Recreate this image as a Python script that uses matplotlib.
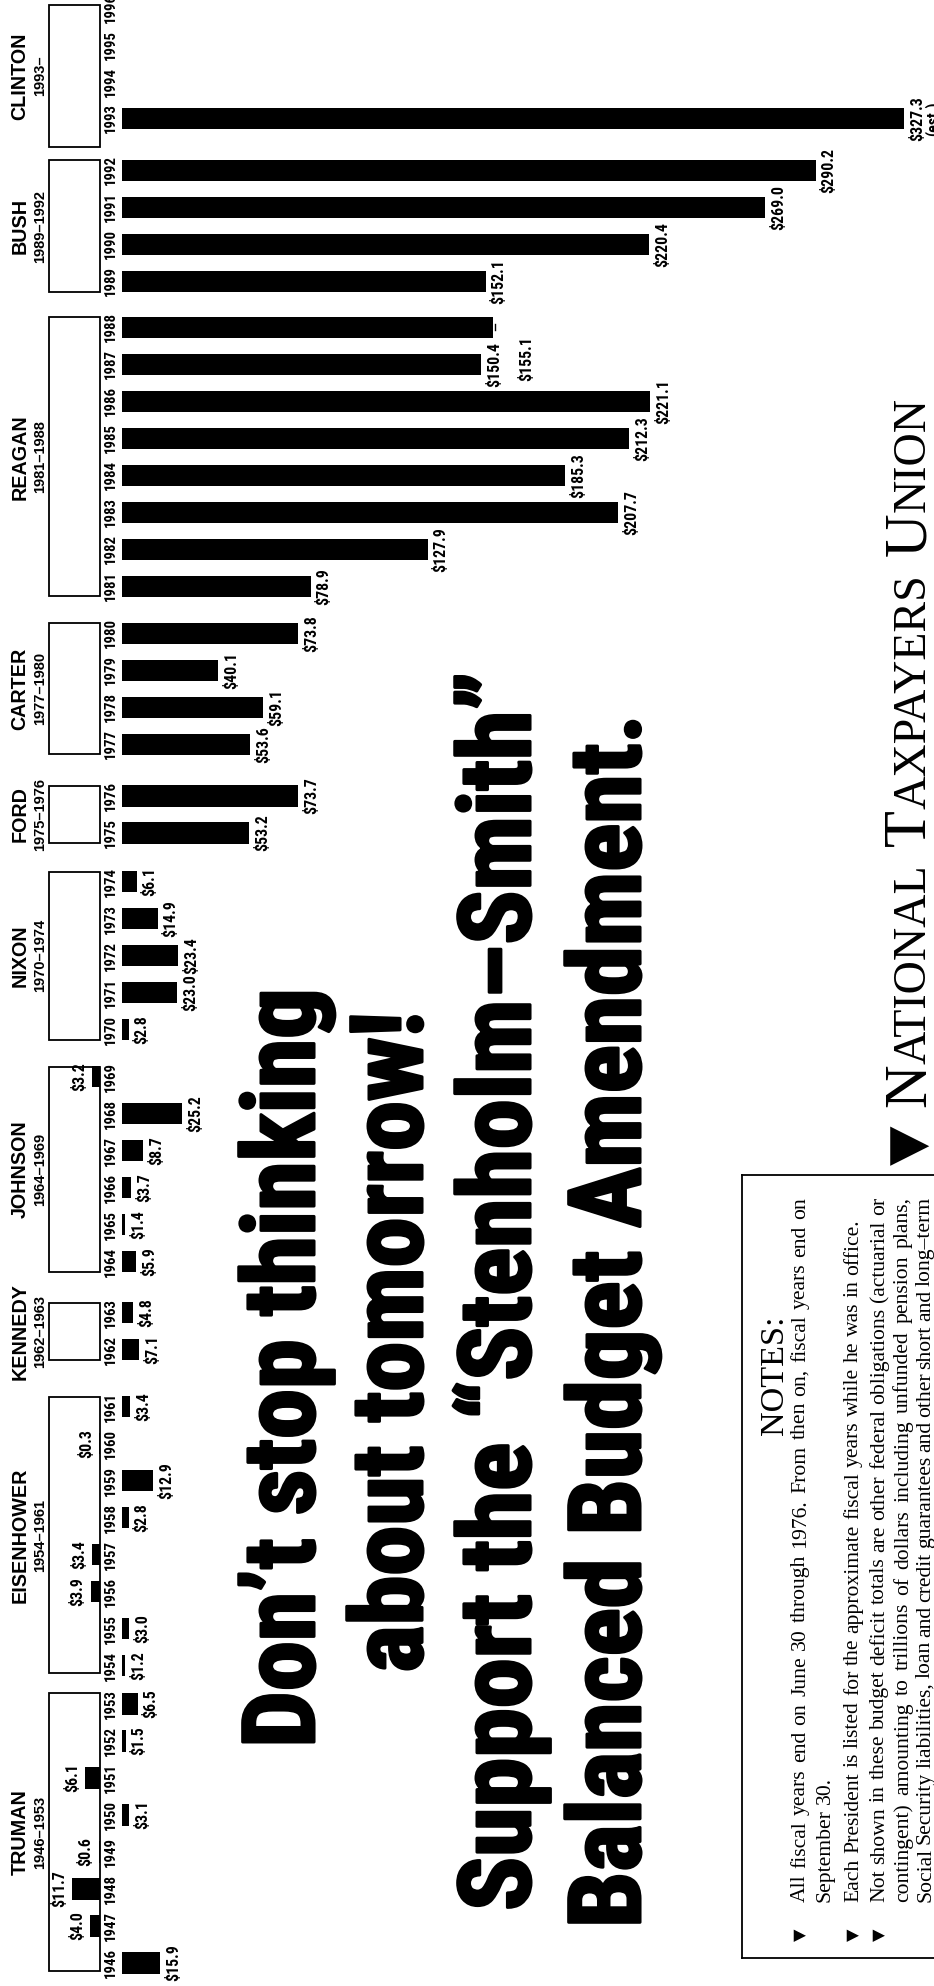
import numpy as np
import matplotlib
matplotlib.use("Agg")
import matplotlib.pyplot as plt
import matplotlib.patheffects as pe
from matplotlib.font_manager import FontProperties, fontManager
from matplotlib.patches import Rectangle

# ---------------- data ----------------
years = [1946, 1947, 1948, 1949, 1950, 1951, 1952, 1953,
         1954, 1955, 1956, 1957, 1958, 1959, 1960, 1961,
         1962, 1963, 1964, 1965, 1966, 1967, 1968, 1969,
         1970, 1971, 1972, 1973, 1974, 1975, 1976,
         1977, 1978, 1979, 1980, 1981, 1982, 1983, 1984,
         1985, 1986, 1987, 1988, 1989, 1990, 1991, 1992, 1993]
# deficit in $ billions (negative = surplus)
deficit = [15.9, -4.0, -11.7, -0.6, 3.1, -6.1, 1.5, 6.5,
           1.2, 3.0, -3.9, -3.4, 2.8, 12.9, -0.3, 3.4,
           7.1, 4.8, 5.9, 1.4, 3.7, 8.7, 25.2, -3.2,
           2.8, 23.0, 23.4, 14.9, 6.1, 53.2, 73.7,
           53.6, 59.1, 40.1, 73.8, 78.9, 127.9, 207.7, 185.3,
           212.3, 221.1, 150.4, 155.1, 152.1, 220.4, 269.0, 290.2, 327.3]
est_years = [1993]

presidents = ["TRUMAN", "EISENHOWER", "KENNEDY", "JOHNSON", "NIXON",
              "FORD", "CARTER", "REAGAN", "BUSH", "CLINTON"]
terms = ["1946–1953", "1954–1961", "1962–1963", "1964–1969", "1970–1974",
         "1975–1976", "1977–1980", "1981–1988", "1989–1992", "1993–"]
term_first = [1946, 1954, 1962, 1964, 1970, 1975, 1977, 1981, 1989, 1993]
term_last = [1953, 1961, 1963, 1969, 1974, 1976, 1980, 1988, 1992, 1996]

slogan = ["Don’t stop thinking", "about tomorrow!",
          "Support the “Stenholm–Smith”", "Balanced Budget Amendment."]
notes_title = "NOTES:"
notes_lines = [
    "All fiscal years end on June 30 through 1976. From then on, fiscal years end on",
    "September 30.",
    "Each President is listed for the approximate fiscal years while he was in office.",
    "Not shown in these budget deficit totals are other federal obligations (actuarial or",
    "contingent) amounting to trillions of dollars including unfunded pension plans,",
    "Social Security liabilities, loan and credit guarantees and other short and long–term",
]
notes_bullet = [True, False, True, True, False, False]
notes_justify = [True, False, False, True, True, True]
org_name = "NATIONAL TAXPAYERS UNION"

# ---------------- layout ----------------
W, H, DPI = 934, 1986, 100
X0 = 122.0        # px where deficit bars start
PX = 2.39         # px per $B
SB_PX = 100.0     # px where surplus bars start (extend left)
Y0 = 23.0         # px from bottom of first year
YS = 37.0         # px per year step
BAR_H = 0.57
GROUP_GAP = [0.03, 0.54, 0.38, 0.27, 0.32, 0.40, 0.27, 0.24, 0.40]
BOX_PAD_LO = [0.22, 0.2, 0.27, 0.27, 0.27, 0.27, 0.27, 0.27, 0.29, 0.77]
BOX_PAD_HI = [0.29, 0.27, 0.27, 0.27, 0.27, 0.27, 0.27, 0.27, 0.28, 0.07]
LABEL_SHIFT = {1988: (21, 31)}

avail = {f.name for f in fontManager.ttflist}


def pick(*names):
    for n in names:
        if n in avail:
            return n
    return "DejaVu Sans"


COND = pick("Liberation Sans Narrow", "Roboto Condensed", "DejaVu Sans")
SANS = pick("Liberation Sans", "Arimo", "DejaVu Sans")
SERIF = pick("Liberation Serif", "Tinos", "DejaVu Serif")

fig = plt.figure(figsize=(W / DPI, H / DPI), dpi=DPI, facecolor="white")
ax = fig.add_axes([0, 0, 1, 1])
ax.set_xlim(-X0 / PX, (W - X0) / PX)
ax.set_ylim(-Y0 / YS, (H - Y0) / YS)
ax.axis("off")
ov = fig.add_axes([0, 0, 1, 1], zorder=3)
ov.set_xlim(0, W)
ov.set_ylim(H, 0)
ov.axis("off")
ov.patch.set_alpha(0)
renderer = fig.canvas.get_renderer()


def dx(px):
    return (px - X0) / PX


def tlen(s, fp):
    w, h, d = renderer.get_text_width_height_descent(s, fp, ismath=False)
    return w


def fp_fit(s, target, family, weight="normal", stretch="normal"):
    fp = FontProperties(family=family, weight=weight, stretch=stretch, size=10)
    size = 10.0 * target / tlen(s, fp)
    return FontProperties(family=family, weight=weight, stretch=stretch, size=size)


def year_pos(y):
    g = next(i for i in range(len(term_first)) if term_first[i] <= y <= term_last[i])
    return (y - term_first[0]) + sum(GROUP_GAP[:g])


cond_fam = [COND, "DejaVu Sans"]
fp_year = fp_fit("1946", 30, cond_fam, "bold", "condensed")
fp_val = fp_fit("$15.9", 37, cond_fam, "bold", "condensed")
fp_name = fp_fit("TRUMAN", 85, [SANS, "DejaVu Sans"], "bold")
fp_term = fp_fit("1946–1953", 73, [SANS, "DejaVu Sans"], "bold")

# ---------------- bars ----------------
d = np.array(deficit)
pos = np.array([year_pos(y) for y in years])
SB = dx(SB_PX)
left = np.where(d >= 0, 0.0, SB)
ax.barh(pos, d, left=left, height=BAR_H, color="black", zorder=2)

LPAD = 5.0 / PX
for y, p, v in zip(years, pos, d):
    lab = f"${abs(v):.1f}"
    if y in est_years:
        lab += "\n(est.)"
    if v >= 0:
        x, ha = v + LPAD, "left"
    else:
        x, ha = SB + v - LPAD, "right"
    sx, sy = LABEL_SHIFT.get(y, (0, 0))
    ax.text(x + sx / PX, p - sy / YS, lab, rotation=90, ha=ha, va="center",
            fontproperties=fp_val, linespacing=0.9, multialignment="center")
    if y in LABEL_SHIFT:
        ax.plot([v + 2.0 / PX, v + 2.0 / PX], [p - 3 / YS, p + 3 / YS],
                color="black", lw=1.0)

# year labels
for y in range(term_first[0], term_last[-1] + 1):
    ax.text(dx(111), year_pos(y), str(y), rotation=90, ha="center", va="center",
            fontproperties=fp_year)

# president boxes and headers
for i, (name, term) in enumerate(zip(presidents, terms)):
    lo = year_pos(term_first[i]) - BOX_PAD_LO[i]
    hi = year_pos(term_last[i]) + BOX_PAD_HI[i]
    ax.add_patch(Rectangle((dx(49), lo), dx(100) - dx(49), hi - lo, fill=False,
                           lw=1.3, ec="black", zorder=1))
    c = (lo + hi) / 2
    ax.text(dx(20), c, name, rotation=90, ha="center", va="center", fontproperties=fp_name)
    ax.text(dx(40), c, term, rotation=90, ha="center", va="center", fontproperties=fp_term)

# ---------------- slogan ----------------
s3 = fp_fit(slogan[2], 1221, cond_fam, "bold", "condensed").get_size()
s4 = fp_fit(slogan[3], 1225, cond_fam, "bold", "condensed").get_size()
fp_slo = FontProperties(family=cond_fam, weight="bold", stretch="condensed", size=(s3 + s4) / 2)
heavy = [pe.withStroke(linewidth=2.2, foreground="black")]
ov.text(314, 1368, slogan[0], rotation=90, rotation_mode="anchor", ha="center",
        va="baseline", fontproperties=fp_slo, path_effects=heavy)
ov.text(422, 1342, slogan[1], rotation=90, rotation_mode="anchor", ha="center",
        va="baseline", fontproperties=fp_slo, path_effects=heavy)
ov.text(530, 1911, slogan[2], rotation=90, rotation_mode="anchor", ha="left",
        va="baseline", fontproperties=fp_slo, path_effects=heavy)
ov.text(640, 1928, slogan[3], rotation=90, rotation_mode="anchor", ha="left",
        va="baseline", fontproperties=fp_slo, path_effects=heavy)

# ---------------- notes box ----------------
serif_fam = [SERIF, "DejaVu Serif", "DejaVu Sans"]
box_l, box_top, box_bot = 742, 1175, 1958
ov.plot([box_l, box_l], [box_top, box_bot], color="black", lw=1.3)
ov.plot([box_l, W + 10], [box_top, box_top], color="black", lw=1.3)
ov.plot([box_l, W + 10], [box_bot, box_bot], color="black", lw=1.3)

fp_title = fp_fit(notes_title, 120, serif_fam)
ov.text(783, 1375, notes_title, rotation=90, rotation_mode="anchor", ha="center",
        va="baseline", fontproperties=fp_title)

fp_body = fp_fit(notes_lines[0], 688, serif_fam)
body_px = fp_body.get_size() * DPI / 72.0
fp_bul = FontProperties(family=["DejaVu Sans"], size=fp_body.get_size() * 0.75)
baselines = [805, 830, 858, 884, 908, 930]
TEXT_START, BULLET_Y, LINE_LEN = 1902, 1941, 705


def place_words(xb, y0, line, fp, target=None):
    words = line.split(" ")
    widths = [tlen(w_, fp) for w_ in words]
    if target is None or len(words) < 2:
        gap = 0.25 * body_px
    else:
        gap = (target - sum(widths)) / (len(words) - 1)
    yy = y0
    for w_, wd in zip(words, widths):
        ov.text(xb, yy, w_, rotation=90, rotation_mode="anchor", ha="left",
                va="baseline", fontproperties=fp)
        yy -= wd + gap


for line, bul, jus, xb in zip(notes_lines, notes_bullet, notes_justify, baselines):
    if bul:
        ov.text(xb, BULLET_Y, "▼", rotation=90, rotation_mode="anchor", ha="left",
                va="baseline", fontproperties=fp_bul)
    place_words(xb, TEXT_START, line, fp_body, LINE_LEN if jus else None)

# ---------------- National Taxpayers Union (small caps) ----------------
pieces = [("▼", 1.0, True)]
for word in org_name.split(" "):
    pieces.append((word[0], 1.0, False))
    pieces.append((word[1:], 0.76, False))
    pieces.append((None, 0.0, False))
pieces = pieces[:-1]
gap_em = 0.30
base = 10.0


def piece_fp(scale, tri, size):
    fam = ["DejaVu Sans"] if tri else serif_fam
    return FontProperties(family=fam, size=size * scale * (0.85 if tri else 1.0))


def total_len(size):
    tot = 0.0
    for txt, sc, tri in pieces:
        if txt is None:
            tot += gap_em * size * DPI / 72.0
        else:
            tot += tlen(txt, piece_fp(sc, tri, size))
    tot += gap_em * size * DPI / 72.0
    return tot


B = base * 762.0 / total_len(base)
yy = 1165.0
for k, (txt, sc, tri) in enumerate(pieces):
    if txt is None:
        yy -= gap_em * B * DPI / 72.0
        continue
    fp = piece_fp(sc, tri, B)
    ov.text(925, yy, txt, rotation=90, rotation_mode="anchor", ha="left",
            va="baseline", fontproperties=fp)
    yy -= tlen(txt, fp)
    if tri:
        yy -= gap_em * B * DPI / 72.0

fig.savefig("out.png", dpi=DPI, facecolor="white")
